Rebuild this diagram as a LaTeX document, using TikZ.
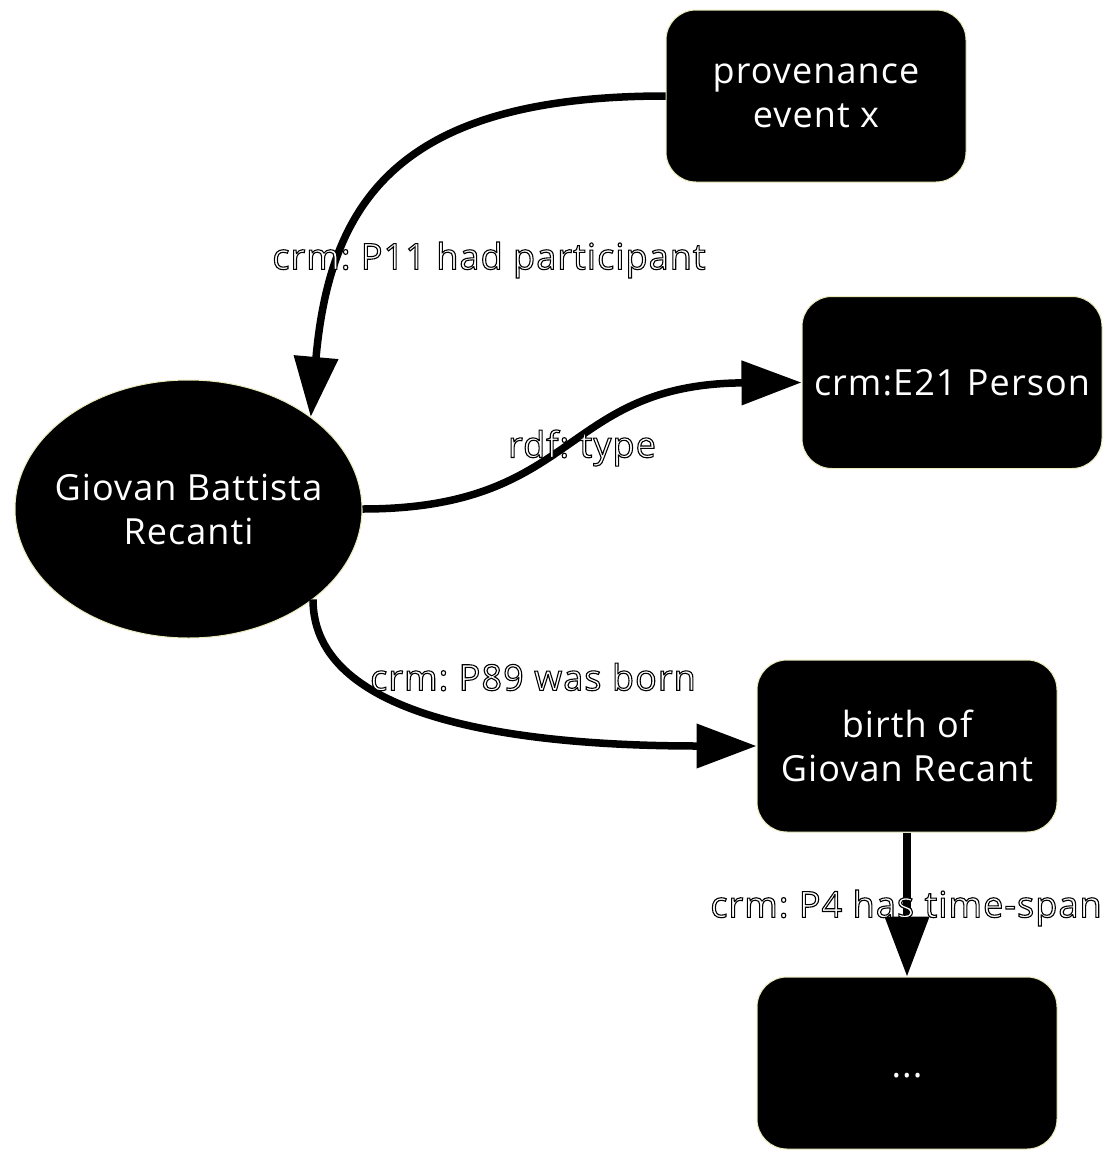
\documentclass[tikz,border=0pt]{standalone}
\usepackage{fontspec}
\setmainfont[LetterSpace=3]{Open Sans}
\usetikzlibrary{arrows.meta,shapes.geometric}
\definecolor{nodeedge}{RGB}{235,235,190}
\newcommand{\outl}[1]{{\color{white}\special{pdf:code 0 G 2 Tr 1.1 w}#1\special{pdf:code 0 Tr}}}
\tikzset{
  box/.style={rectangle, rounded corners=30pt, fill=black, draw=nodeedge, line width=1pt,
    minimum width=300pt, minimum height=172pt, text=white, align=center,
    font=\fontsize{36}{44}\selectfont, inner sep=0pt},
  ell/.style={ellipse, fill=black, draw=nodeedge, line width=1pt,
    minimum width=347pt, minimum height=258pt, inner sep=0pt},
  elltext/.style={text=white, align=center, font=\fontsize{36}{44}\selectfont, inner sep=0pt},
  edge/.style={line width=7.5pt, -{Triangle[length=60pt,width=43pt]}},
  lab/.style={font=\fontsize{36}{44}\selectfont, inner sep=0pt}
}
\begin{document}
\frenchspacing
\begin{tikzpicture}[x=1pt,y=-1pt]
\useasboundingbox (0,0) rectangle (1113,1154);
\node[box] (prov) at (816,96) {provenance\\event x};
\node[box] (e21) at (952,382.5) {crm:E21 Person};
\node[ell, label={[elltext, name=gtext]center:Giovan Battista\\Recanti}] (g) at (188.5,509) {};
\node[box] (birth) at (907,746) {birth of\\Giovan Recant};
\node[box] (dots) at (907,1063) {\rule{0pt}{30pt}...};
\draw[edge] (prov.west) .. controls (400,96) and (330,200) .. (g.37);
\draw[edge] (g.east) .. controls (580,509) and (560,384) .. (e21.west);
\draw[edge] (g.-36) .. controls (313,720) and (520,746) .. (birth.west);
\draw[edge] (birth.south) -- (dots.north);
\node[lab] (l1) at (489,260) {\outl{crm: P11 had participant}};
\node[lab] (l2) at (582,448) {\outl{rdf: type}};
\node[lab] (l3) at (533,677) {\outl{crm: P89 was born}};
\node[lab] (l4) at (906,908) {\outl{crm: P4 has time-span}};
\end{tikzpicture}
\end{document}
